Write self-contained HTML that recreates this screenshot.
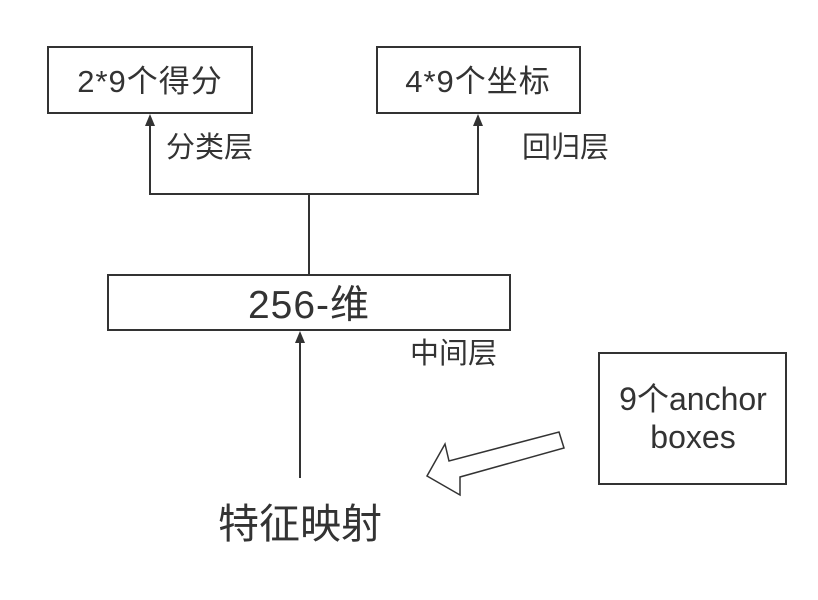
<!DOCTYPE html>
<html><head><meta charset="utf-8"><style>
body{margin:0;background:#fff}
svg text{font-family:"Liberation Sans","Noto Sans CJK SC",sans-serif;fill:#333}
</style></head><body>
<svg width="818" height="595" xmlns="http://www.w3.org/2000/svg">
<g fill="none" stroke="#333" stroke-width="2">
<rect x="48" y="47" width="204" height="66"/>
<rect x="377" y="47" width="203" height="66"/>
<rect x="108" y="275" width="402" height="55"/>
<rect x="599" y="353" width="187" height="131"/>
<path d="M309,275 V194 H150 V124"/>
<path d="M309,194 H478 V124"/>
<path d="M300,478 V342"/>
<polygon points="559,432 564,448 460,477 460,495 427,476 445,444 449,461" stroke-width="1.5"/>
</g>
<g fill="#333">
<polygon points="150,114 145,126 155,126"/>
<polygon points="478,114 473,126 483,126"/>
<polygon points="300,331 295,343 305,343"/>
</g>
<text x="150" y="92" font-size="31" text-anchor="middle" letter-spacing="1">2*9个得分</text>
<text x="478" y="92" font-size="31" text-anchor="middle" letter-spacing="1">4*9个坐标</text>
<text x="166" y="157" font-size="29">分类层</text>
<text x="522" y="157" font-size="29">回归层</text>
<text x="309" y="318" font-size="39" text-anchor="middle" letter-spacing="1">256-维</text>
<text x="410" y="363" font-size="29">中间层</text>
<text x="693" y="410" font-size="32" text-anchor="middle">9个anchor</text>
<text x="693" y="448" font-size="32" text-anchor="middle">boxes</text>
<text x="300" y="538" font-size="41" text-anchor="middle">特征映射</text>
</svg>
</body></html>
